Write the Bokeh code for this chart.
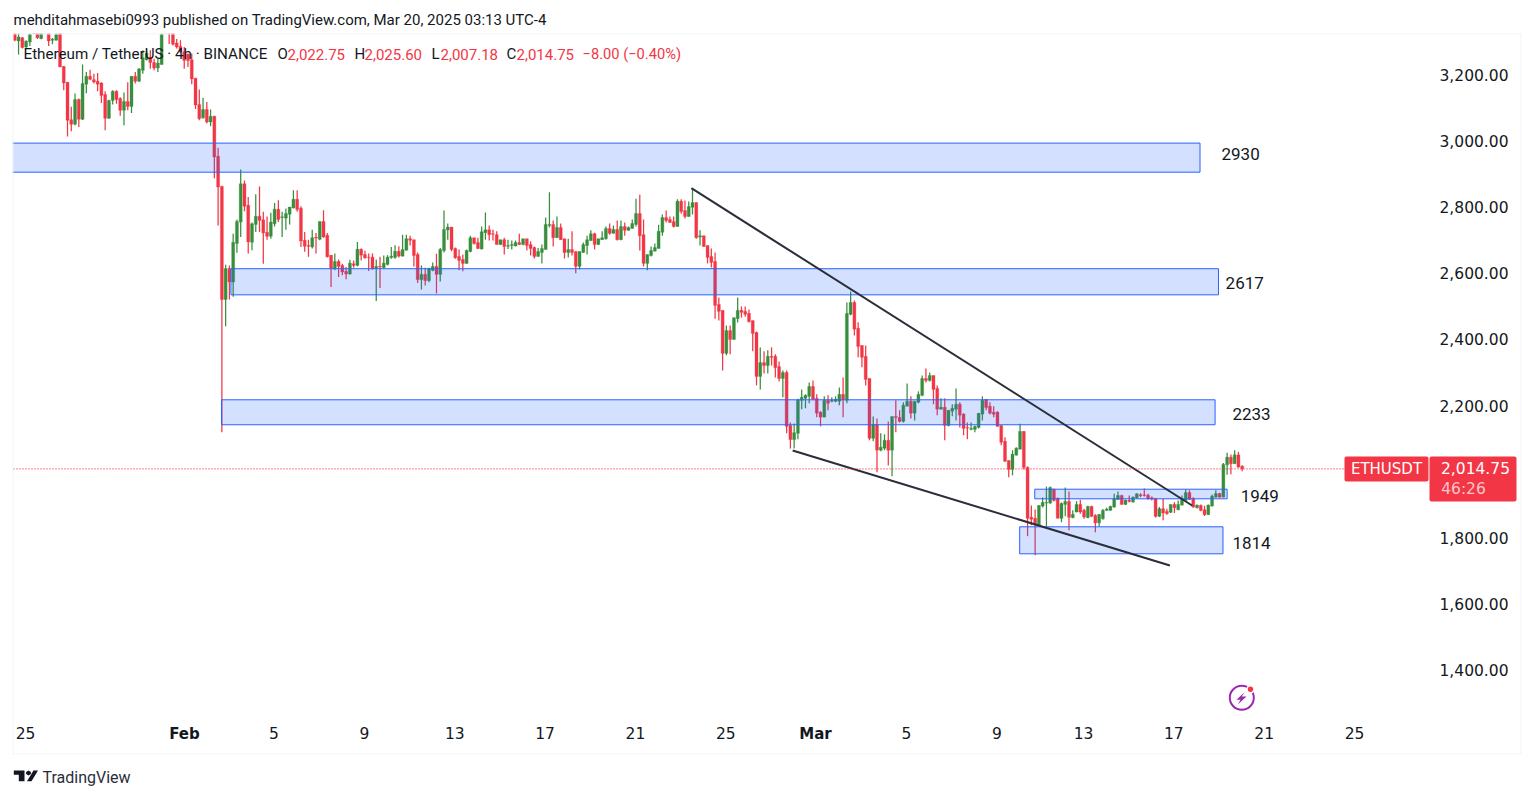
from bokeh.plotting import figure
from bokeh.embed import file_html
from bokeh.resources import INLINE
from bokeh.core.properties import value
from bokeh.models import (ColumnDataSource, Range1d, LinearAxis, FixedTicker, Label,
                          BoxAnnotation, PolyAnnotation)

opens = [
3336,3309,3319,3291,3306,3332,3336,3316,3336,3336, 3311,3311,3336,3232,3184,3071,3057,3132,3072,3178,
3202,3192,3187,3182,3147,3075,3129,3157,3135,3099, 3126,3111,3202,3187,3220,3252,3260,3244,3227,3238,
3345,3340,3336,3303,3293,3276,3269,3252,3196,3117, 3077,3102,3064,3081,2960,2869,2527,2621,2580,2696,
2761,2877,2812,2700,2754,2779,2768,2730,2718,2756, 2800,2775,2773,2785,2804,2830,2803,2706,2690,2686,
2715,2709,2763,2721,2661,2620,2642,2630,2612,2604, 2635,2630,2679,2663,2655,2655,2621,2627,2623,2633,
2654,2654,2673,2658,2676,2711,2708,2663,2587,2603, 2584,2615,2627,2603,2675,2737,2746,2681,2657,2648,
2636,2672,2714,2699,2680,2729,2738,2726,2723,2693, 2708,2688,2690,2689,2699,2693,2711,2693,2684,2657,
2669,2678,2751,2754,2714,2745,2711,2669,2678,2672, 2627,2669,2690,2705,2726,2693,2708,2711,2742,2727,
2739,2708,2748,2736,2742,2754,2787,2723,2636,2660, 2673,2681,2730,2775,2769,2763,2748,2824,2796,2778,
2806,2820,2716,2720,2690,2657,2642,2512,2494,2364, 2433,2406,2469,2494,2491,2485,2463,2427,2294,2336,
2327,2355,2355,2324,2288,2306,2146,2103,2122,2222, 2228,2234,2264,2228,2186,2171,2222,2219,2219,2219,
2240,2222,2482,2518,2440,2388,2355,2288,2107,2149, 2071,2077,2101,2071,2173,2170,2158,2204,2219,2183,
2216,2237,2288,2282,2297,2258,2195,2201,2146,2189, 2195,2210,2180,2140,2134,2134,2140,2180,2225,2204,
2186,2186,2146,2098,2040,2013,2056,2074,2128,2019, 1868,1865,1844,1902,1911,1911,1952,1925,1865,1907,
1916,1867,1884,1907,1889,1867,1901,1874,1851,1864, 1889,1889,1899,1922,1934,1907,1920,1914,1927,1936,
1936,1935,1927,1925,1871,1894,1886,1883,1907,1891, 1905,1919,1943,1924,1897,1904,1891,1876,1902,1929,
1940,1929,2027,2050,2030,2057,2022.75]
highs = [
3339,3336,3321,3311,3336,3345,3340,3340,3350,3340, 3318,3335,3340,3233,3185,3110,3150,3135,3238,3215,
3222,3210,3212,3184,3157,3131,3160,3160,3139,3153, 3184,3202,3215,3227,3281,3281,3281,3255,3255,3340,
3352,3345,3340,3315,3311,3291,3271,3271,3198,3162, 3137,3124,3102,3083,2986,2871,2632,2630,2726,2769,
2920,2887,2837,2760,2845,2869,2792,2778,2789,2819, 2827,2792,2802,2807,2857,2857,2809,2731,2708,2738,
2728,2763,2797,2728,2661,2666,2648,2635,2625,2647, 2645,2701,2681,2674,2666,2666,2648,2656,2660,2661,
2686,2691,2688,2723,2723,2720,2708,2669,2630,2623, 2623,2639,2665,2683,2796,2757,2746,2684,2678,2663,
2678,2720,2714,2714,2748,2790,2751,2738,2733,2708, 2714,2708,2705,2705,2726,2711,2711,2703,2687,2683,
2693,2775,2851,2766,2778,2757,2711,2711,2733,2672, 2672,2699,2720,2736,2729,2711,2733,2748,2757,2751,
2766,2766,2760,2748,2769,2832,2844,2769,2663,2687, 2696,2753,2784,2796,2778,2778,2830,2830,2826,2823,
2863,2820,2736,2720,2690,2681,2669,2533,2494,2448, 2448,2472,2533,2506,2506,2497,2463,2430,2382,2370,
2373,2382,2361,2339,2312,2312,2155,2152,2227,2255, 2240,2276,2282,2240,2189,2234,2237,2231,2234,2261,
2291,2518,2551,2524,2458,2388,2388,2288,2173,2167, 2122,2119,2158,2173,2222,2192,2216,2273,2234,2219,
2249,2297,2318,2306,2297,2267,2228,2228,2192,2210, 2258,2216,2183,2155,2155,2146,2183,2234,2225,2216,
2204,2189,2146,2110,2040,2071,2080,2151,2128,2022, 1904,1892,1904,1928,1961,1961,1955,1928,1913,1958,
1946,1889,1917,1921,1894,1903,1903,1877,1877,1893, 1897,1903,1939,1946,1936,1922,1934,1931,1941,1941,
1955,1939,1931,1925,1899,1924,1894,1907,1914,1919, 1934,1953,1950,1929,1907,1907,1903,1907,1937,1950,
1942,2032,2063,2058,2071,2066,2025.6]
lows = [
3308,3268,3286,3284,3294,3329,3315,3314,3332,3294, 3299,3310,3230,3160,3020,3036,3054,3049,3070,3151,
3190,3180,3157,3121,3039,3074,3117,3119,3083,3054, 3099,3091,3180,3185,3210,3250,3225,3220,3215,3237,
3331,3300,3295,3286,3273,3225,3230,3178,3103,3069, 3074,3059,3051,2894,2751,2125,2446,2527,2535,2668,
2716,2794,2666,2676,2731,2731,2635,2708,2711,2748, 2761,2716,2738,2754,2802,2792,2686,2671,2656,2681,
2666,2706,2714,2654,2565,2615,2595,2600,2588,2602, 2623,2627,2645,2650,2613,2617,2522,2562,2621,2630,
2650,2650,2654,2657,2675,2690,2627,2577,2557,2569, 2579,2612,2545,2581,2669,2708,2673,2650,2615,2612,
2635,2670,2693,2680,2678,2708,2705,2705,2693,2692, 2663,2680,2678,2687,2692,2691,2675,2660,2651,2657,
2636,2678,2745,2687,2714,2708,2651,2654,2660,2606, 2618,2668,2663,2704,2678,2692,2707,2708,2723,2726,
2705,2706,2720,2735,2742,2748,2675,2627,2615,2657, 2673,2681,2720,2760,2758,2745,2748,2786,2772,2777,
2784,2711,2690,2686,2636,2624,2469,2463,2312,2358, 2361,2406,2457,2472,2475,2457,2370,2267,2255,2303,
2303,2327,2291,2279,2231,2122,2076,2076,2104,2195, 2198,2213,2222,2171,2143,2171,2192,2216,2216,2207,
2171,2213,2479,2418,2352,2322,2267,2101,2098,2004, 2068,2071,2025,1992,2125,2155,2155,2204,2167,2161,
2213,2234,2276,2279,2210,2177,2194,2101,2143,2174, 2161,2140,2116,2104,2131,2125,2137,2161,2192,2179,
2171,2143,2086,2037,1989,1995,2055,2074,2013,1811, 1844,1753,1844,1898,1841,1909,1916,1865,1853,1871,
1829,1865,1883,1879,1864,1865,1869,1823,1841,1861, 1888,1888,1897,1921,1906,1905,1913,1913,1925,1929,
1931,1921,1919,1867,1869,1859,1876,1881,1881,1889, 1904,1916,1921,1897,1895,1886,1872,1875,1901,1927,
1927,1929,1997,1998,2030,2018,2007.18]
closes = [
3311,3321,3289,3308,3329,3340,3319,3336,3345,3309, 3314,3329,3230,3182,3069,3057,3132,3072,3180,3202,
3193,3185,3178,3144,3075,3129,3157,3132,3099,3126, 3111,3202,3187,3224,3258,3272,3244,3227,3242,3329,
3335,3332,3299,3291,3276,3250,3250,3194,3115,3074, 3102,3064,3081,2958,2867,2527,2621,2580,2700,2763,
2877,2809,2701,2756,2779,2766,2728,2718,2761,2800, 2769,2777,2787,2807,2830,2799,2704,2688,2688,2714,
2713,2763,2716,2656,2620,2642,2627,2610,2604,2637, 2630,2679,2661,2653,2654,2620,2627,2625,2637,2655,
2658,2673,2658,2678,2711,2706,2660,2587,2603,2584, 2620,2627,2603,2678,2739,2746,2678,2653,2645,2636,
2675,2714,2696,2681,2732,2738,2723,2724,2693,2708, 2687,2690,2693,2699,2693,2711,2690,2681,2657,2672,
2681,2754,2754,2714,2745,2708,2669,2678,2669,2627, 2672,2693,2708,2726,2693,2711,2714,2742,2727,2739,
2708,2748,2736,2745,2757,2787,2720,2636,2663,2675, 2684,2733,2775,2766,2760,2748,2824,2793,2778,2808,
2820,2714,2720,2687,2654,2639,2509,2491,2364,2433, 2406,2472,2494,2488,2482,2460,2424,2294,2336,2327,
2355,2352,2321,2288,2306,2143,2103,2124,2223,2231, 2237,2264,2225,2183,2171,2222,2213,2222,2225,2240,
2225,2485,2518,2437,2385,2352,2285,2107,2149,2071, 2080,2101,2071,2173,2170,2158,2207,2219,2183,2219,
2240,2288,2282,2297,2255,2195,2201,2146,2192,2198, 2210,2177,2137,2138,2137,2143,2183,2222,2200,2183,
2180,2143,2095,2037,2013,2059,2077,2128,2019,1865, 1862,1847,1904,1913,1913,1958,1919,1865,1910,1916,
1868,1877,1907,1884,1869,1901,1871,1851,1877,1889, 1893,1901,1924,1934,1907,1920,1916,1929,1939,1933,
1934,1925,1923,1871,1894,1881,1879,1907,1897,1907, 1922,1943,1922,1899,1905,1889,1876,1905,1932,1940,
1929,2028,2050,2030,2057,2020,2014.75]

# support / resistance zones: start bar, end bar, top price, bottom price, label
zone_left = [-1.5, 57.4, 54.9, 270.9, 266.9]
zone_right = [314.8, 319.7, 318.8, 322.0, 320.9]
zone_top = [3000, 2620, 2223.5, 1953, 1839.3]
zone_bottom = [2912, 2541, 2148, 1924, 1757.6]
zone_labels = ["2930", "2617", "2233", "1949", "1814"]
zone_label_bar = [320.5, 321.6, 323.4, 325.6, 323.4]
zone_label_price = [2968, 2578, 2182, 1931, 1789]

# wedge trend lines
upper_bars, upper_prices = [179.7, 312.7], [2863.6, 1903.7]
lower_bars, lower_prices = [206.6, 306.8], [2070, 1722.2]

price_ticks = [3200, 3000, 2800, 2600, 2400, 2200, 1800, 1600, 1400]
price_label_nudge = 6  # the source's scale prints its labels about 2px above the true level
day_ticks = [2.85, 68.85, 92.85, 116.85, 140.85, 164.85, 188.85, 236.85, 260.85, 283.85, 307.85, 331.85, 355.85]
day_labels = ["25", "5", "9", "13", "17", "21", "25", "5", "9", "13", "17", "21", "25"]
month_ticks = [44.85, 212.85]
month_labels = ["Feb", "Mar"]

GREEN, RED, BLUE, INK = "#388e3c", "#f23645", "#2962ff", "#131722"
FONT = "Roboto"
AXFONT = "DejaVu Sans"
W, H = 1525, 790

# pixel helpers used only to set the view and place decoration
def X(px): return (px - 14.3) / 3.765
def Y(py): return 2014.75 + (468.3 - py) * 3.025

p = figure(width=W, height=H, output_backend="svg", toolbar_location=None,
           x_range=Range1d(X(0), X(W)), y_range=Range1d(Y(H), Y(0)),
           x_axis_location=None, y_axis_location=None,
           min_border_left=0, min_border_top=0, min_border_right=0, min_border_bottom=0)
p.grid.visible = False
p.outline_line_color = None
p.background_fill_color = "white"

bars = list(range(len(opens)))
colors = [GREEN if c >= o else RED for o, c in zip(opens, closes)]
src = ColumnDataSource(dict(x=bars, o=opens, h=highs, l=lows, c=closes, col=colors))

p.segment("x", "h", "x", "l", source=src, line_color="col", line_width=1.25)
p.vbar("x", 0.8, "o", "c", source=src, fill_color="col", line_color="col", line_width=0.3)

p.quad(left=zone_left, right=zone_right, top=zone_top, bottom=zone_bottom,
       fill_color=BLUE, fill_alpha=0.2, line_color=BLUE, line_width=1)
p.text(zone_label_bar, zone_label_price, zone_labels, text_font=value(FONT), text_font_size="17px",
       text_color=INK, text_align="left", text_baseline="middle")

p.line(upper_bars, upper_prices, line_color="#2a2e39", line_width=2)
p.line(lower_bars, lower_prices, line_color="#2a2e39", line_width=2)

last_price = closes[-1]
p.line([X(13), X(1344)], [last_price, last_price], line_color=RED, line_width=1.3, line_dash="1 2")

# axes, pulled back inside the canvas
ya = LinearAxis(ticker=FixedTicker(ticks=[t + price_label_nudge for t in price_ticks]),
                major_label_overrides={t + price_label_nudge: f"{t:,.2f}" for t in price_ticks})
xa = LinearAxis(ticker=FixedTicker(ticks=day_ticks),
                major_label_overrides=dict(zip(day_ticks, day_labels)))
for a in (xa, ya):
    a.axis_line_color = None
    a.major_tick_line_color = None
    a.minor_tick_line_color = None
    a.major_tick_out = 0
    a.major_tick_in = 0
    a.major_label_text_color = INK
    a.major_label_text_font = AXFONT
    a.major_label_text_font_size = "15.5px"
ya.major_label_standoff = -86
xa.major_label_standoff = -64
p.add_layout(ya, "right")
p.add_layout(xa, "below")

def text(px, py, s, size="14px", color=INK, font=FONT, align="left", style="normal"):
    p.add_layout(Label(x=px, y=py, x_units="canvas", y_units="canvas", text=s, text_font=font,
                       text_font_size=size, text_color=color,
                       text_align=align, text_baseline="middle", text_font_style=style))

def box(l, r, t, b, color, radius=0):
    p.add_layout(BoxAnnotation(left=l, right=r, top=t, bottom=b, left_units="canvas", right_units="canvas",
                               top_units="canvas", bottom_units="canvas", fill_color=color, fill_alpha=1,
                               line_color=None, border_radius=radius))

# white margins hide what runs past the top and left of the pane
box(0, W, 0, 33, "white")
box(0, 12, 0, H, "white")

for t, lab in zip(month_ticks, month_labels):
    text(184 if lab == "Feb" else 815, 733.5, lab, "15px", INK, AXFONT, "center", "bold")

# outer pane border
for l, r, t, b in [(12, 13, 33, 754), (1520, 1521, 33, 754), (12, 1521, 33, 34), (12, 1521, 753, 754)]:
    box(l, r, t, b, "#f0f3fa")

# tags
box(1344, 1428, 456, 481, RED, 2)
box(1429, 1516, 456, 501, RED, 2)

text(1386, 468, "ETHUSDT", "15px", "white", AXFONT, "center")
text(1475, 467, "2,014.75", "15.5px", "white", AXFONT, "center")
text(1463, 488, "46:26", "15.5px", "#fbc4c9", AXFONT, "center")

text(13, 19.5, "mehditahmasebi0993 published on TradingView.com, Mar 20, 2025 03:13 UTC-4", "15px")
text(23, 53.5, "Ethereum / TetherUS · 4h · BINANCE", "15.2px")
text(277, 53.5, "O", "15px")
text(287, 53.5, "2,022.75", "15px", RED)
text(354, 53.5, "H", "15px")
text(364, 53.5, "2,025.60", "15px", RED)
text(431, 53.5, "L", "15px")
text(440, 53.5, "2,007.18", "15px", RED)
text(506, 53.5, "C", "15px")
text(516, 53.5, "2,014.75", "15px", RED)
text(582, 53.5, "−8.00 (−0.40%)", "14.7px", RED)

# TradingView wordmark
text(42, 776.5, "TradingView", "16px", "#2a2e39")
black = dict(fill_color="#131722", fill_alpha=1, line_color=None, xs_units="canvas", ys_units="canvas")
p.add_layout(PolyAnnotation(xs=[13.3, 24, 24, 18.3, 18.3, 13.3], ys=[770, 770, 780.7, 780.7, 774.3, 774.3], **black))
p.add_layout(PolyAnnotation(xs=[26.5, 33, 37.5, 31], ys=[780.7, 770, 770, 780.7], **black))
p.add_layout(PolyAnnotation(xs=[25.6, 28, 30.4, 30.4, 28, 25.6], ys=[771.5, 770, 771.5, 773.5, 775, 773.5], **black))

# bolt badge
p.scatter([X(1241.3)], [Y(697.3)], size=24, marker="circle", fill_color=None, line_color="#9c27b0", line_width=2)
p.patch([X(v) for v in (1244, 1236, 1240, 1237.3, 1246, 1241.3)],
        [Y(v) for v in (691.7, 699.3, 699.3, 704, 696, 696)], fill_color="#9c27b0", line_color=None)
p.scatter([X(1250)], [Y(688.7)], size=7, marker="circle", fill_color=RED, line_color="white", line_width=1.5)

assert len(opens) == len(highs) == len(lows) == len(closes) == 327
open("out.html", "w").write(file_html(p, INLINE))
